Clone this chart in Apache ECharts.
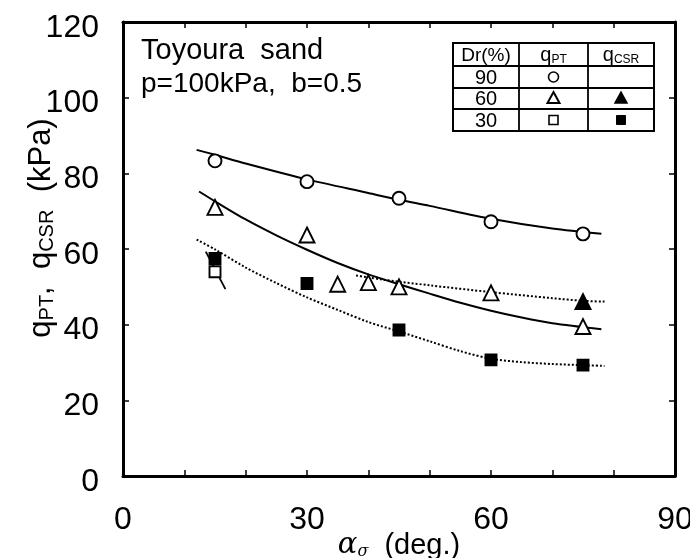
<!DOCTYPE html>
<html>
<head>
<meta charset="utf-8">
<script src="https://cdn.jsdelivr.net/npm/echarts@6/dist/echarts.min.js"></script>
<style>html,body{margin:0;padding:0;background:#fff}#c{width:690px;height:558px}</style>
</head>
<body>
<div id="c"></div>
<script>
// ---- data ----
const xTicks = [0, 30, 60, 90];
const yTicks = [0, 20, 40, 60, 80, 100, 120];

const ptDr90X = [15, 30, 45, 60, 75];
const ptDr90Y = [83.3, 77.8, 73.4, 67.2, 64.0];

const ptDr60X = [15, 30, 35, 40, 45, 60, 75];
const ptDr60Y = [71.0, 63.7, 50.7, 51.1, 50.0, 48.4, 39.5];

const csrDr60X = [75];
const csrDr60Y = [46.1];

const ptDr30X = [15];
const ptDr30Y = [54.0];

const csrDr30X = [15, 30, 45, 60, 75];
const csrDr30Y = [57.5, 50.9, 38.6, 30.7, 29.3];

const fitDr90X = [12, 15, 20, 30, 40, 45, 50, 60, 70, 78];
const fitDr90Y = [86.2, 84.9, 82.6, 78.4, 74.8, 73.0, 71.4, 68.0, 65.4, 64.0];

const fitDr60PTX = [12.4, 15, 20, 25, 30, 35, 40, 45, 50, 55, 60, 65, 70, 78];
const fitDr60PTY = [75.2, 72.6, 67.8, 63.6, 59.8, 56.3, 53.3, 50.7, 48.2, 45.8, 43.7, 41.9, 40.4, 38.8];

const fitDr60CSRX = [38, 42, 50, 60, 70, 75, 78.5];
const fitDr60CSRY = [53.0, 52.0, 50.4, 48.6, 47.0, 46.3, 46.1];

const fitDr30CSRX = [12, 15, 20, 25, 30, 35, 40, 45, 50, 55, 60, 65, 70, 75, 78.5];
const fitDr30CSRY = [62.5, 59.9, 55.1, 51.0, 47.2, 43.9, 40.7, 38.2, 35.6, 33.0, 31.0, 30.1, 29.6, 29.3, 29.1];

const leaderX = [13.5, 16.7];
const leaderY = [59.3, 49.4];

const legendRows = ['90', '60', '30'];

// ---- helpers ----
const zip = (xs, ys) => xs.map((x, i) => [x, ys[i]]);
const FONT = '"Liberation Sans", Arial, Helvetica, sans-serif';

function lineSeries(xs, ys, dotted) {
  return {
    type: 'line', data: zip(xs, ys), smooth: 0.3, showSymbol: false, symbol: 'none',
    silent: true, z: 2,
    lineStyle: { color: '#000', width: 2, type: dotted ? [2, 2] : 'solid' }
  };
}
function markSeries(xs, ys, symbol, size, filled) {
  return {
    type: 'scatter', data: zip(xs, ys), symbol: symbol, symbolSize: size, z: 5,
    itemStyle: { color: filled ? '#000' : '#fff', borderColor: '#000', borderWidth: 1.9, opacity: 1 }
  };
}

const axisCommon = {
  axisLine: { show: true, onZero: false, lineStyle: { color: '#000', width: 3 } },
  axisTick: { show: true, inside: true, length: 6, lineStyle: { color: '#000', width: 1.5 } },
  splitLine: { show: false }
};

const chart = echarts.init(document.getElementById('c'), null, { renderer: 'canvas' });

const tri = 'path://M0,-10L8.66,5L-8.66,5Z';

const option = {
  animation: false,
  backgroundColor: '#fff',
  textStyle: { fontFamily: FONT },
  grid: { left: 123, right: 15, top: 22, bottom: 82, containLabel: false, outerBoundsMode: 'none' },
  xAxis: [
    Object.assign({
      type: 'value', min: 0, max: 90, interval: 10, position: 'bottom',
      name: '{a|α}{s|σ}{n|  (deg.)}', nameLocation: 'middle', nameGap: 55, nameMoveOverlap: false,
      nameTextStyle: {
        rich: {
          a: { fontFamily: 'DejaVu Serif, serif', fontStyle: 'italic', fontSize: 29, color: '#000' },
          s: { fontFamily: 'DejaVu Serif, serif', fontStyle: 'italic', fontSize: 16, color: '#000', verticalAlign: 'bottom' },
          n: { fontFamily: FONT, fontSize: 29, color: '#000' }
        }
      },
      axisLabel: {
        show: true, margin: 28, fontSize: 32, color: '#000', fontFamily: FONT,
        formatter: v => (xTicks.indexOf(v) >= 0 ? String(v) : '')
      }
    }, axisCommon),
    Object.assign({
      type: 'value', min: 0, max: 90, interval: 10, position: 'top',
      axisLabel: { show: false }
    }, axisCommon)
  ],
  yAxis: [
    Object.assign({
      type: 'value', min: 0, max: 120, interval: 20, position: 'left',
      name: '{p|}{q|q}{s|PT}{q|,  q}{s|CSR}{q|  (kPa)}', nameLocation: 'middle', nameGap: 66, nameRotate: 90,
      nameMoveOverlap: false,
      nameTextStyle: {
        rich: {
          p: { width: 42, fontSize: 31 },
          q: { fontFamily: FONT, fontSize: 31, color: '#000' },
          s: { fontFamily: FONT, fontSize: 20, color: '#000', verticalAlign: 'bottom' }
        }
      },
      axisLabel: {
        show: true, margin: 24, color: '#000',
        formatter: v => (yTicks.indexOf(v) >= 0 ? '{t|' + v + '}' : ''),
        rich: { t: { fontSize: 32, fontFamily: FONT, color: '#000', padding: [12, 0, 0, 0] } }
      }
    }, axisCommon),
    Object.assign({
      type: 'value', min: 0, max: 120, interval: 20, position: 'right',
      axisLabel: { show: false }
    }, axisCommon)
  ],
  series: [
    lineSeries(fitDr90X, fitDr90Y, false),
    lineSeries(fitDr60PTX, fitDr60PTY, false),
    lineSeries(fitDr60CSRX, fitDr60CSRY, true),
    lineSeries(fitDr30CSRX, fitDr30CSRY, true),
    {
      type: 'line', data: zip(leaderX, leaderY), showSymbol: false, symbol: 'none', silent: true, z: 2,
      lineStyle: { color: '#000', width: 1.8 }
    },
    markSeries(ptDr90X, ptDr90Y, 'circle', 13, false),
    markSeries(ptDr60X, ptDr60Y, tri, 15, false),
    markSeries(csrDr60X, csrDr60Y, tri, 15, true),
    markSeries(ptDr30X, ptDr30Y, 'rect', 11, false),
    markSeries(csrDr30X, csrDr30Y, 'rect', 11, true)
  ],
  graphic: []
};

// annotation text
const g = option.graphic;
g.push({ type: 'text', left: 141, top: 36, z: 10,
  style: { text: 'Toyoura  sand', font: '29px ' + FONT, fill: '#000' } });
g.push({ type: 'text', left: 141, top: 70, z: 10,
  style: { text: 'p=100kPa,  b=0.5', font: '28px ' + FONT, fill: '#000' } });

// legend table
const TL = 453, TR = 654, TT = 43, TB = 131;
const colX = [519, 588];
const rowY = [66, 88, 109];
const ls = { stroke: '#000', lineWidth: 1.8 };
g.push({ type: 'rect', z: 10, shape: { x: TL, y: TT, width: TR - TL, height: TB - TT }, style: { fill: '#fff', stroke: '#000', lineWidth: 2 } });
colX.forEach(x => g.push({ type: 'line', z: 11, shape: { x1: x, y1: TT, x2: x, y2: TB }, style: ls }));
rowY.forEach(y => g.push({ type: 'line', z: 11, shape: { x1: TL, y1: y, x2: TR, y2: y }, style: ls }));
const c1 = (TL + colX[0]) / 2, c2 = (colX[0] + colX[1]) / 2, c3 = (colX[1] + TR) / 2;
const rowC = [(TT + rowY[0]) / 2, (rowY[0] + rowY[1]) / 2, (rowY[1] + rowY[2]) / 2, (rowY[2] + TB) / 2];
g.push({ type: 'text', z: 12, x: c1, y: rowC[0] + 1, style: { text: 'Dr(%)', font: '19px ' + FONT, fill: '#000', align: 'center', verticalAlign: 'middle' } });
g.push({ type: 'text', z: 12, x: c2, y: rowC[0] + 1, style: {
  text: '{q|q}{s|PT}', align: 'center', verticalAlign: 'middle',
  rich: { q: { fontSize: 20, fontFamily: FONT, fill: '#000' }, s: { fontSize: 12, fontFamily: FONT, fill: '#000', verticalAlign: 'bottom' } } } });
g.push({ type: 'text', z: 12, x: c3, y: rowC[0] + 1, style: {
  text: '{q|q}{s|CSR}', align: 'center', verticalAlign: 'middle',
  rich: { q: { fontSize: 20, fontFamily: FONT, fill: '#000' }, s: { fontSize: 12, fontFamily: FONT, fill: '#000', verticalAlign: 'bottom' } } } });
legendRows.forEach((t, i) => g.push({ type: 'text', z: 12, x: c1, y: rowC[i + 1] + 1,
  style: { text: t, font: '20px ' + FONT, fill: '#000', align: 'center', verticalAlign: 'middle' } }));
// legend symbols
g.push({ type: 'circle', z: 12, shape: { cx: c2, cy: rowC[1], r: 5 }, style: { fill: '#fff', stroke: '#000', lineWidth: 1.6 } });
const triPts = (cx, cy) => [[cx, cy - 6.5], [cx + 6, cy + 4.5], [cx - 6, cy + 4.5]];
g.push({ type: 'polygon', z: 12, shape: { points: triPts(c2, rowC[2]) }, style: { fill: '#fff', stroke: '#000', lineWidth: 2 } });
g.push({ type: 'polygon', z: 12, shape: { points: triPts(c3, rowC[2]) }, style: { fill: '#000', stroke: '#000', lineWidth: 1.5 } });
g.push({ type: 'rect', z: 12, shape: { x: c2 - 4.5, y: rowC[3] - 4.5, width: 9, height: 9 }, style: { fill: '#fff', stroke: '#000', lineWidth: 1.6 } });
g.push({ type: 'rect', z: 12, shape: { x: c3 - 4.5, y: rowC[3] - 4.5, width: 9, height: 9 }, style: { fill: '#000', stroke: '#000', lineWidth: 1 } });

chart.setOption(option);
</script>
</body>
</html>
